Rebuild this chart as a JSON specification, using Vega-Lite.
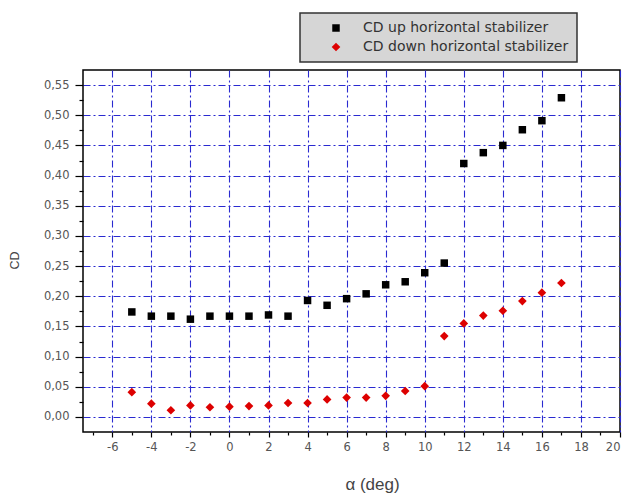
{
  "$schema": "https://vega.github.io/schema/vega-lite/v6.json",
  "width": 537,
  "height": 362,
  "autosize": {"type": "none"},
  "padding": {"left": 83, "top": 70, "right": 9, "bottom": 65},
  "background": "white",
  "config": {
    "view": {"stroke": "black", "strokeWidth": 1.5},
    "font": "Liberation Sans",
    "legend": {"strokeColor": "#333333", "fillColor": "#d6d6d6", "strokeWidth": 1.5},
    "axis": {
      "domain": false,
      "tickColor": "black",
      "tickWidth": 1.2,
      "labelColor": "#555555",
      "labelFont": "DejaVu Sans",
      "labelFontSize": 11.5,
      "titleFont": "Liberation Sans",
      "titleFontWeight": "normal",
      "titleColor": "#444444",
      "gridColor": "#2a2ad0",
      "gridDash": [7, 3, 2, 3],
      "gridWidth": 1.1,
      "gridOpacity": 1
    }
  },
  "data": {
    "values": [
      {"alpha": -5, "cd": 0.174, "series": "CD up horizontal stabilizer"},
      {"alpha": -4, "cd": 0.167, "series": "CD up horizontal stabilizer"},
      {"alpha": -3, "cd": 0.167, "series": "CD up horizontal stabilizer"},
      {"alpha": -2, "cd": 0.162, "series": "CD up horizontal stabilizer"},
      {"alpha": -1, "cd": 0.167, "series": "CD up horizontal stabilizer"},
      {"alpha": 0, "cd": 0.167, "series": "CD up horizontal stabilizer"},
      {"alpha": 1, "cd": 0.167, "series": "CD up horizontal stabilizer"},
      {"alpha": 2, "cd": 0.169, "series": "CD up horizontal stabilizer"},
      {"alpha": 3, "cd": 0.167, "series": "CD up horizontal stabilizer"},
      {"alpha": 4, "cd": 0.193, "series": "CD up horizontal stabilizer"},
      {"alpha": 5, "cd": 0.185, "series": "CD up horizontal stabilizer"},
      {"alpha": 6, "cd": 0.196, "series": "CD up horizontal stabilizer"},
      {"alpha": 7, "cd": 0.204, "series": "CD up horizontal stabilizer"},
      {"alpha": 8, "cd": 0.219, "series": "CD up horizontal stabilizer"},
      {"alpha": 9, "cd": 0.224, "series": "CD up horizontal stabilizer"},
      {"alpha": 10, "cd": 0.239, "series": "CD up horizontal stabilizer"},
      {"alpha": 11, "cd": 0.255, "series": "CD up horizontal stabilizer"},
      {"alpha": 12, "cd": 0.42, "series": "CD up horizontal stabilizer"},
      {"alpha": 13, "cd": 0.438, "series": "CD up horizontal stabilizer"},
      {"alpha": 14, "cd": 0.45, "series": "CD up horizontal stabilizer"},
      {"alpha": 15, "cd": 0.476, "series": "CD up horizontal stabilizer"},
      {"alpha": 16, "cd": 0.491, "series": "CD up horizontal stabilizer"},
      {"alpha": 17, "cd": 0.529, "series": "CD up horizontal stabilizer"},
      {"alpha": -5, "cd": 0.041, "series": "CD down horizontal stabilizer"},
      {"alpha": -4, "cd": 0.022, "series": "CD down horizontal stabilizer"},
      {"alpha": -3, "cd": 0.011, "series": "CD down horizontal stabilizer"},
      {"alpha": -2, "cd": 0.019, "series": "CD down horizontal stabilizer"},
      {"alpha": -1, "cd": 0.016, "series": "CD down horizontal stabilizer"},
      {"alpha": 0, "cd": 0.017, "series": "CD down horizontal stabilizer"},
      {"alpha": 1, "cd": 0.018, "series": "CD down horizontal stabilizer"},
      {"alpha": 2, "cd": 0.019, "series": "CD down horizontal stabilizer"},
      {"alpha": 3, "cd": 0.023, "series": "CD down horizontal stabilizer"},
      {"alpha": 4, "cd": 0.023, "series": "CD down horizontal stabilizer"},
      {"alpha": 5, "cd": 0.029, "series": "CD down horizontal stabilizer"},
      {"alpha": 6, "cd": 0.032, "series": "CD down horizontal stabilizer"},
      {"alpha": 7, "cd": 0.032, "series": "CD down horizontal stabilizer"},
      {"alpha": 8, "cd": 0.035, "series": "CD down horizontal stabilizer"},
      {"alpha": 9, "cd": 0.043, "series": "CD down horizontal stabilizer"},
      {"alpha": 10, "cd": 0.051, "series": "CD down horizontal stabilizer"},
      {"alpha": 11, "cd": 0.134, "series": "CD down horizontal stabilizer"},
      {"alpha": 12, "cd": 0.155, "series": "CD down horizontal stabilizer"},
      {"alpha": 13, "cd": 0.168, "series": "CD down horizontal stabilizer"},
      {"alpha": 14, "cd": 0.176, "series": "CD down horizontal stabilizer"},
      {"alpha": 15, "cd": 0.192, "series": "CD down horizontal stabilizer"},
      {"alpha": 16, "cd": 0.206, "series": "CD down horizontal stabilizer"},
      {"alpha": 17, "cd": 0.222, "series": "CD down horizontal stabilizer"}
    ]
  },
  "resolve": {"axis": {"x": "independent", "y": "independent"}},
  "layer": [
    {
      "mark": {"type": "point", "filled": true, "opacity": 0, "size": 1},
      "encoding": {
        "x": {
          "field": "alpha", "type": "quantitative",
          "scale": {"domain": [-7.5, 20], "nice": false, "zero": false},
          "axis": {"orient": "bottom", "values": [-7, -5, -3, -1, 1, 3, 5, 7, 9, 11, 13, 15, 17, 19], "labels": false, "grid": false, "tickSize": 3, "title": null}
        },
        "y": {
          "field": "cd", "type": "quantitative",
          "scale": {"domain": [-0.025, 0.575], "nice": false, "zero": false},
          "axis": {"orient": "left", "values": [0.025, 0.075, 0.125, 0.175, 0.225, 0.275, 0.325, 0.375, 0.425, 0.475, 0.525], "labels": false, "grid": false, "tickSize": 4, "title": null}
        }
      }
    },
    {
      "mark": {"type": "point", "filled": true, "opacity": 1, "strokeWidth": 0},
      "encoding": {
        "x": {
          "field": "alpha", "type": "quantitative",
          "scale": {"domain": [-7.5, 20], "nice": false, "zero": false},
          "axis": {"orient": "bottom", "grid": true, "values": [-6, -4, -2, 0, 2, 4, 6, 8, 10, 12, 14, 16, 18, 20], "tickSize": 5, "labelPadding": 4, "labelExpr": "'' + datum.value", "title": "α (deg)", "titleFontSize": 17, "titlePadding": 24, "titleX": 289}
        },
        "y": {
          "field": "cd", "type": "quantitative",
          "scale": {"domain": [-0.025, 0.575], "nice": false, "zero": false},
          "axis": {"orient": "left", "grid": true, "values": [0, 0.05, 0.1, 0.15, 0.2, 0.25, 0.3, 0.35, 0.4, 0.45, 0.5, 0.55], "tickSize": 8, "labelPadding": 6, "labelExpr": "replace(format(datum.value, '.2f'), '.', ',')", "title": "CD", "titleFontSize": 12.5, "titlePadding": 22, "titleY": 190}
        },
        "color": {
          "field": "series", "type": "nominal",
          "scale": {"domain": ["CD up horizontal stabilizer", "CD down horizontal stabilizer"], "range": ["#000000", "#dd0000"]},
          "legend": {"title": null, "orient": "none", "legendX": 217, "legendY": -57, "padding": 8, "rowPadding": 5, "symbolOffset": 21, "labelOffset": 20, "labelLimit": 400, "labelFont": "DejaVu Sans", "labelFontSize": 14, "labelColor": "#333333", "symbolSize": 50, "symbolStrokeWidth": 0, "labelExpr": "datum.label + '\u00a0\u00a0\u00a0\u00a0'"}
        },
        "shape": {
          "field": "series", "type": "nominal",
          "scale": {"domain": ["CD up horizontal stabilizer", "CD down horizontal stabilizer"], "range": ["square", "diamond"]},
          "legend": {"title": null, "orient": "none", "legendX": 217, "legendY": -57, "padding": 8, "rowPadding": 5, "symbolOffset": 21, "labelOffset": 20, "labelLimit": 400, "labelFont": "DejaVu Sans", "labelFontSize": 14, "labelColor": "#333333", "symbolSize": 50, "symbolStrokeWidth": 0, "labelExpr": "datum.label + '\u00a0\u00a0\u00a0\u00a0'"}
        },
        "size": {
          "field": "series", "type": "nominal",
          "scale": {"domain": ["CD up horizontal stabilizer", "CD down horizontal stabilizer"], "range": [56, 75]},
          "legend": null
        }
      }
    }
  ]
}
